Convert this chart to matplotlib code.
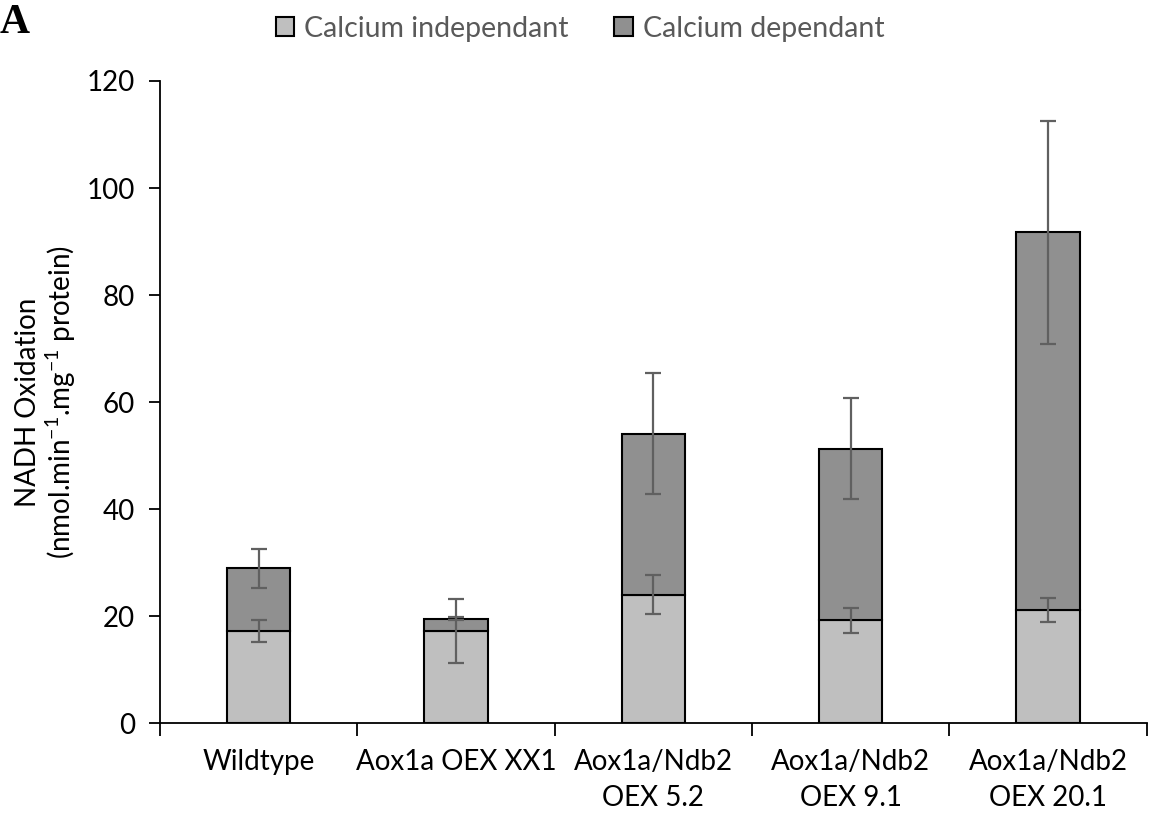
import matplotlib
matplotlib.use("Agg")
import matplotlib.pyplot as plt
import numpy as np

# data
lines = ["Wildtype", "Aox1a OEX XX1", "Aox1a/Ndb2\nOEX 5.2", "Aox1a/Ndb2\nOEX 9.1", "Aox1a/Ndb2\nOEX 20.1"]
ca_indep = [17.2, 17.2, 24.0, 19.2, 21.1]
ca_indep_err = [2.1, 6.0, 3.65, 2.35, 2.2]
ca_total = [28.9, 19.5, 54.1, 51.3, 91.7]
ca_total_err = [3.6, 0.3, 11.3, 9.5, 20.9]
ca_dep = [t - i for t, i in zip(ca_total, ca_indep)]

plt.rcParams['font.family'] = ['Lato', 'DejaVu Sans']
plt.rcParams['mathtext.default'] = 'regular'

fig = plt.figure(figsize=(11.49, 8.19), dpi=100)
ax = fig.add_axes([0.1393, 0.1172, 0.8587, 0.7839])

x = np.arange(len(lines))
w = 0.32
ax.bar(x, ca_indep, w, color='#bfbfbf', edgecolor='black', linewidth=1.5,
       label='Calcium independant', zorder=2)
ax.bar(x, ca_dep, w, bottom=ca_indep, color='#909090', edgecolor='black', linewidth=1.5,
       label='Calcium dependant', zorder=2)
ax.errorbar(x, ca_indep, yerr=ca_indep_err, fmt='none', ecolor='#606060',
            elinewidth=1.6, capsize=6, capthick=1.6, zorder=3)
ax.errorbar(x, ca_total, yerr=ca_total_err, fmt='none', ecolor='#606060',
            elinewidth=1.6, capsize=6, capthick=1.6, zorder=3)

ax.set_xlim(-0.5, len(lines) - 0.5)
ax.set_ylim(0, 120)
ax.set_yticks(np.arange(0, 121, 20))
ax.set_xticks(np.arange(len(lines) + 1) - 0.5)
ax.set_xticklabels([])
ax.set_xticks(x, minor=True)
ax.set_xticklabels(lines, minor=True, fontsize=20, linespacing=1.45)
ax.tick_params(axis='x', which='major', length=9, width=1.3, direction='out')
ax.tick_params(axis='x', which='minor', length=0, pad=19)
ax.tick_params(axis='y', length=8, width=1.3, labelsize=20, pad=10)
for s in ['top', 'right']:
    ax.spines[s].set_visible(False)
for s in ['left', 'bottom']:
    ax.spines[s].set_linewidth(1.3)

ax.set_ylabel('NADH Oxidation\n(nmol.min$^{-1}$.mg$^{-1}$ protein)', fontsize=20, linespacing=1.1)
ax.yaxis.set_label_coords(-0.083, 0.5)

leg = fig.legend(loc='upper center', bbox_to_anchor=(0.505, 1.012), ncol=2, frameon=False,
                 fontsize=20.5, handlelength=0.65, handleheight=0.65, handletextpad=0.35,
                 columnspacing=1.6)
for t in leg.get_texts():
    t.set_color('#595959')

fig.text(0.0, 0.972, 'A', fontsize=30, fontweight='bold', family='Liberation Serif', va='center')

fig.savefig('out.png', dpi=100)
